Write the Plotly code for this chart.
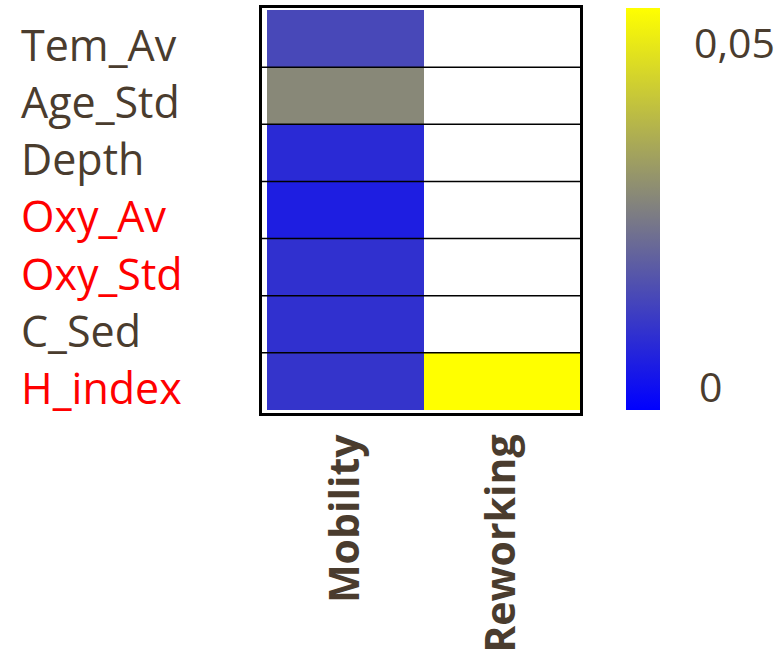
import plotly.graph_objects as go

# Predictors (rows, top to bottom) and responses (columns)
rows = ["Tem_Av", "Age_Std", "Depth", "Oxy_Av", "Oxy_Std", "C_Sed", "H_index"]
row_label_colors = ["#4a3c2e", "#4a3c2e", "#4a3c2e", "#ff0000", "#ff0000", "#4a3c2e", "#ff0000"]
columns = ["Mobility", "Reworking"]

# Cell values per column (None = no value, left blank)
mobility = [0.014, 0.0265, 0.0082, 0.0059, 0.0094, 0.0094, 0.0102]
reworking = [None, None, None, None, None, None, 0.05]

# Colour scale limits and their labels
zmin, zmax = 0.0, 0.05
scale_labels = ["0,05", "0"]

BROWN = "#4a3c2e"
FONT = "Open Sans"

z = [[m, r] for m, r in zip(mobility, reworking)]
row_idx = list(range(len(rows)))
col_idx = list(range(len(columns)))

fig = go.Figure()
fig.add_trace(go.Heatmap(
    z=z, x=col_idx, y=row_idx,
    zmin=zmin, zmax=zmax,
    colorscale=[[0.0, "#0000ff"], [0.5, "#808080"], [1.0, "#ffff00"]],
    hoverongaps=False,
    colorbar=dict(
        x=626 / 781, xanchor="left", xpad=0,
        y=1 - 410 / 653, yanchor="bottom", ypad=0,
        len=402 / 653, lenmode="fraction",
        thickness=34, thicknessmode="pixels",
        outlinewidth=0, showticklabels=False, ticks="",
    ),
))

# thin black separators between rows
for i in row_idx[:-1]:
    fig.add_shape(type="line", xref="x domain", yref="y",
                  x0=0, x1=1, y0=i + 0.5, y1=i + 0.5,
                  line=dict(color="black", width=1.5))

# left-aligned row labels
for i, (name, col) in enumerate(zip(rows, row_label_colors)):
    fig.add_annotation(text=name, xref="paper", yref="y",
                       x=19 / 781, y=i, xanchor="left", yanchor="middle",
                       yshift=-6, showarrow=False,
                       font=dict(family=FONT, size=43, color=col))

# colour bar end labels
fig.add_annotation(text=scale_labels[0], xref="paper", yref="paper",
                   x=692 / 781, y=1 - 42 / 653, xanchor="left", yanchor="middle",
                   showarrow=False, font=dict(family=FONT, size=41, color=BROWN))
fig.add_annotation(text=scale_labels[1], xref="paper", yref="paper",
                   x=697 / 781, y=1 - 386 / 653, xanchor="left", yanchor="middle",
                   showarrow=False, font=dict(family=FONT, size=41, color=BROWN))

fig.update_xaxes(
    domain=[262 / 781, 580 / 781],
    range=[-0.532, 1.5],
    tickvals=col_idx, ticktext=columns, tickangle=-90,
    tickfont=dict(family=FONT, size=41, color=BROWN, weight="bold"),
    ticks="", ticklabelstandoff=2, automargin=False,
    showgrid=False, zeroline=False,
    showline=True, mirror=True, linecolor="black", linewidth=3,
)
fig.update_yaxes(
    domain=[1 - 413 / 653, 1 - 8 / 653],
    range=[6.553, -0.535],
    showticklabels=False, ticks="", automargin=False,
    showgrid=False, zeroline=False,
    showline=True, mirror=True, linecolor="black", linewidth=3,
)

fig.update_layout(
    width=781, height=653,
    margin=dict(l=0, r=0, t=0, b=0),
    paper_bgcolor="white", plot_bgcolor="white",
    showlegend=False,
)

fig.write_html("out.html")
